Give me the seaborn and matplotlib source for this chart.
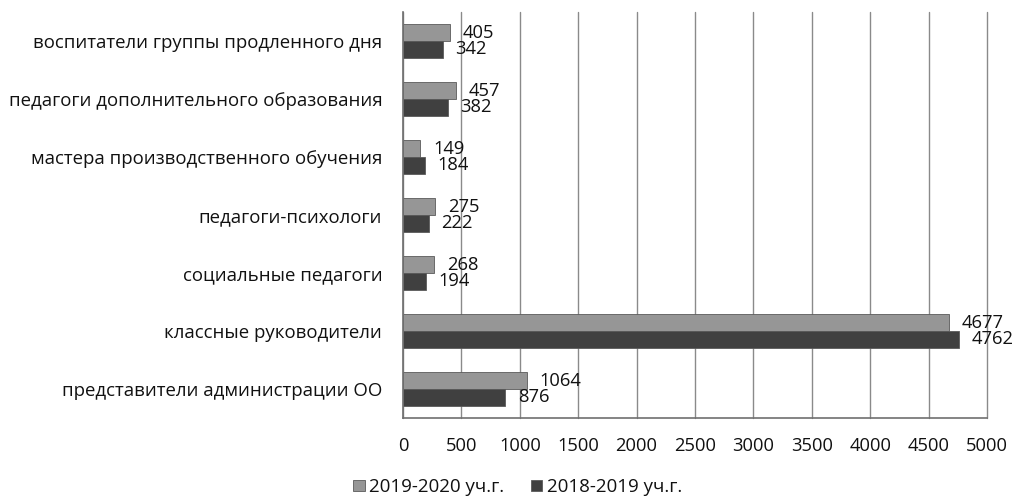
import pandas as pd
import seaborn as sns
import matplotlib.pyplot as plt

categories = [
    "воспитатели группы продленного дня",
    "педагоги дополнительного образования",
    "мастера производственного обучения",
    "педагоги-психологи",
    "социальные педагоги",
    "классные руководители",
    "представители администрации ОО",
]
years = ["2019-2020 уч.г.", "2018-2019 уч.г."]
values_2019_2020 = [405, 457, 149, 275, 268, 4677, 1064]
values_2018_2019 = [342, 382, 184, 222, 194, 4762, 876]

df = pd.DataFrame({
    "category": categories * 2,
    "year": [years[0]] * len(categories) + [years[1]] * len(categories),
    "value": values_2019_2020 + values_2018_2019,
})

sns.set_style("white")
plt.rcParams["font.family"] = ["Open Sans", "DejaVu Sans"]

fig = plt.figure(figsize=(10.17, 4.98), dpi=100)
ax = fig.add_axes([0.3963, 0.1606, 0.5742, 0.8153])

sns.barplot(
    data=df, y="category", x="value", hue="year",
    order=categories, hue_order=years,
    palette=["#969696", "#404040"],
    width=0.58, orient="y", ax=ax, legend=True,
    saturation=1, edgecolor="#5a5a5a", linewidth=0.6,
)

for cont in ax.containers:
    ax.bar_label(cont, padding=9, fontsize=13.2, color="#111111")

ax.set_xlim(0, 5000)
ax.set_xticks(range(0, 5001, 500))
ax.set_ylim(len(categories) - 0.5, -0.5)
ax.xaxis.grid(True, color="#8a8a8a", linewidth=1.0)
ax.set_axisbelow(True)
ax.set_xlabel("")
ax.set_ylabel("")
for gl in ax.get_xgridlines():
    gl.set_clip_on(False)

# category separator ticks on the left, no ticks at labels
ax.set_yticks([i + 0.5 for i in range(-1, len(categories))], minor=True)
ax.tick_params(axis="y", which="major", length=0, pad=15, labelsize=13.4,
               labelcolor="#111111")
ax.tick_params(axis="y", which="minor", length=5, color="#707070", width=1)
ax.tick_params(axis="x", length=5, color="#707070", width=1, pad=9,
               labelsize=13.2, labelcolor="#111111")

for s in ["top", "right"]:
    ax.spines[s].set_visible(False)
for s in ["left", "bottom"]:
    ax.spines[s].set_color("#707070")
    ax.spines[s].set_linewidth(1.2)

handles, labels = ax.get_legend_handles_labels()
ax.get_legend().remove()
fig.legend(handles, labels, loc="lower center", bbox_to_anchor=(0.509, -0.03),
           ncol=2, frameon=False, fontsize=13.5, handlelength=0.6,
           handleheight=0.6, handletextpad=0.25, columnspacing=1.4,
           labelcolor="#111111")

fig.savefig("out.png", dpi=100)
